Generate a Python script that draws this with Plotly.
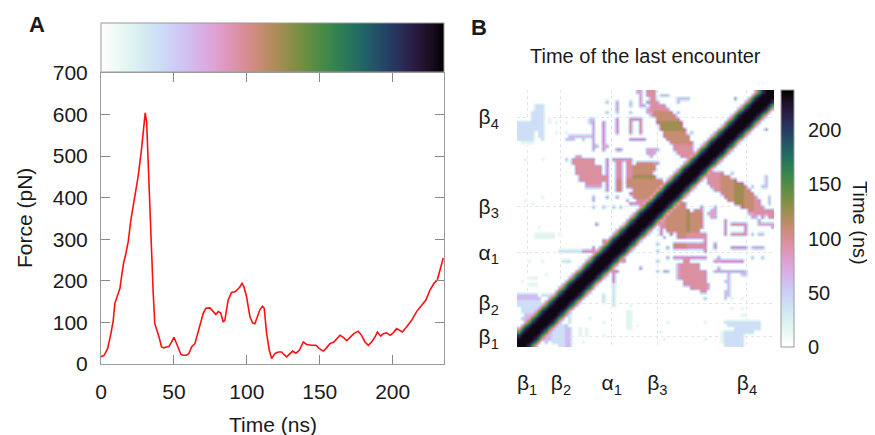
import math
import plotly.graph_objects as go

# ---------------- Panel A data: force trace ----------------
time_ns = [0, 0.4, 2.2, 4.5, 6.8, 8.4, 9.5, 11.4, 13, 14.1,
           15.5, 17, 18.7, 20.5, 22.1, 23.7, 25.5, 27.8, 29.4, 30.3,
           31.3, 32.4, 34.2, 35.8, 36.9, 38.1, 39.8, 41.5, 43.1, 44.9,
           46.6, 48.4, 50, 51.4, 53, 54.8, 56.4, 58.7, 60.3, 62.1,
           64.4, 67.8, 70.1, 71.9, 74.7, 77, 78.8, 80.4, 82, 83.8,
           84.9, 87.2, 89.5, 91.8, 93.4, 95.3, 96.7, 98, 99.8, 102.1,
           103.9, 105.5, 107.1, 109, 110.8, 111.9, 113.6, 115.4, 117, 119.2,
           121.5, 123.8, 125.4, 127.3, 129.1, 131.4, 133.7, 136, 138.7, 141,
           144.4, 147.4, 149.7, 152.4, 154.2, 157, 159.7, 161.5, 163.9, 166.2,
           168.5, 170.8, 173.4, 176.4, 178.7, 181, 183.3, 185.6, 187.9, 189.5,
           191.8, 193.6, 195.9, 198.2, 200.4, 202.7, 204.5, 206.6, 209.5, 213,
           216.4, 219.8, 222.8, 225.6, 228.3, 230.6, 232.4, 234.7]
force_pn = [18, 18, 21, 37, 73, 105, 146, 166, 182, 210,
            243, 265, 295, 347, 380, 404, 452, 517, 574, 604,
            582, 477, 315, 170, 97, 85, 65, 41, 39, 41,
            42, 53, 64, 53, 37, 23, 21, 21, 25, 41,
            49, 89, 122, 134, 135, 126, 119, 126, 123, 101,
            105, 154, 172, 174, 178, 186, 194, 186, 162, 114,
            99, 97, 114, 131, 139, 134, 73, 33, 13, 25,
            29, 29, 23, 17, 23, 31, 26, 33, 53, 47,
            45, 45, 37, 31, 37, 49, 53, 59, 69, 64,
            56, 64, 73, 79, 69, 53, 45, 53, 65, 77,
            67, 73, 75, 69, 75, 85, 81, 77, 89, 105,
            126, 142, 154, 178, 194, 202, 227, 255]
x_ticks_a = [0, 50, 100, 150, 200]
y_ticks_a = [0, 100, 200, 300, 400, 500, 600, 700]

# ---------------- Panel B data: time of last contact ----------------
residues = list(range(1, 77))
# time (ns) at |i-j| = 0..5 along the diagonal
band_profile = [232, 232, 230, 205, 150, 85]
# colour levels
level_time = {'1': 20, '2': 40, '3': 62, '4': 80, '5': 96, '6': 110,
              '7': 125, '8': 155, '9': 180, 'A': 205, 'B': 232}
# (residue j, residue i from, residue i to, level) for i < j
contacts = [
    (76, 36, 37, '4'), (76, 39, 41, '5'),
    (75, 37, 37, '4'), (75, 39, 41, '5'), (75, 43, 45, '3'),
    (74, 37, 37, '4'), (74, 40, 41, '5'), (74, 48, 51, '3'), (74, 65, 65, '5'),
    (73, 27, 27, '3'), (73, 30, 30, '4'), (73, 34, 34, '3'), (73, 37, 37, '4'), (73, 39, 42, '5'), (73, 48, 48, '3'),
    (72, 6, 8, '2'), (72, 30, 30, '4'), (72, 34, 34, '3'), (72, 37, 38, '4'), (72, 40, 44, '5'),
    (71, 6, 8, '2'), (71, 30, 30, '4'), (71, 39, 39, '4'), (71, 40, 45, '5'),
    (70, 5, 8, '2'), (70, 27, 27, '3'), (70, 30, 30, '3'), (70, 34, 34, '3'), (70, 39, 40, '4'), (70, 41, 46, '6'), (70, 48, 48, '3'),
    (69, 5, 8, '2'), (69, 40, 40, '4'), (69, 41, 47, '6'),
    (68, 5, 8, '2'), (68, 10, 10, '1'), (68, 22, 23, '3'), (68, 30, 30, '5'), (68, 34, 37, '5'), (68, 42, 48, '6'),
    (67, 1, 8, '2'), (67, 10, 10, '1'), (67, 12, 12, '1'), (67, 15, 15, '1'), (67, 22, 22, '3'), (67, 23, 23, '4'),
    (67, 26, 26, '5'), (67, 30, 30, '5'), (67, 34, 34, '5'), (67, 37, 37, '5'), (67, 42, 49, '7'),
    (66, 1, 8, '2'), (66, 23, 23, '4'), (66, 26, 26, '5'), (66, 30, 30, '5'), (66, 34, 34, '5'), (66, 37, 37, '5'), (66, 43, 49, '7'),
    (65, 1, 8, '2'), (65, 23, 23, '4'), (65, 26, 26, '5'), (65, 30, 30, '5'), (65, 34, 34, '5'), (65, 37, 37, '5'), (65, 43, 50, '7'),
    (64, 1, 5, '2'), (64, 7, 8, '2'), (64, 12, 12, '1'), (64, 15, 15, '1'), (64, 23, 23, '4'), (64, 26, 26, '5'),
    (64, 30, 30, '5'), (64, 34, 34, '5'), (64, 37, 37, '5'), (64, 44, 50, '6'), (64, 52, 52, '3'),
    (63, 1, 5, '2'), (63, 7, 8, '2'), (63, 16, 22, '3'), (63, 23, 23, '4'), (63, 26, 26, '5'), (63, 44, 51, '6'),
    (62, 1, 5, '2'), (62, 8, 8, '2'), (62, 15, 17, '3'), (62, 20, 20, '3'), (62, 23, 23, '4'), (62, 26, 26, '5'),
    (62, 34, 38, '5'), (62, 45, 51, '6'),
    (61, 2, 5, '1'), (61, 23, 23, '4'), (61, 26, 26, '5'), (61, 46, 52, '6'),
    (60, 23, 24, '4'), (60, 26, 27, '4'), (60, 47, 52, '5'),
    (59, 23, 23, '4'), (59, 26, 26, '5'), (59, 30, 31, '5'), (59, 39, 42, '4'), (59, 47, 52, '5'),
    (58, 39, 41, '4'), (58, 48, 52, '5'),
    (57, 18, 19, '4'), (57, 40, 40, '4'), (57, 49, 51, '5'),
    (56, 3, 3, '1'), (56, 8, 8, '1'), (56, 15, 15, '3'), (56, 17, 23, '5'), (56, 27, 27, '5'), (56, 29, 34, '5'),
    (55, 17, 23, '5'), (55, 27, 27, '5'), (55, 30, 31, '5'), (55, 33, 34, '5'), (55, 36, 40, '6'), (55, 41, 42, '5'),
    (54, 18, 25, '5'), (54, 27, 27, '5'), (54, 30, 31, '5'), (54, 33, 34, '5'), (54, 35, 41, '6'),
    (53, 18, 25, '5'), (53, 27, 27, '5'), (53, 30, 31, '5'), (53, 33, 34, '5'), (53, 35, 41, '6'),
    (52, 18, 25, '5'), (52, 27, 27, '5'), (52, 30, 31, '5'), (52, 33, 34, '5'), (52, 35, 40, '6'),
    (51, 19, 26, '5'), (51, 27, 27, '5'), (51, 30, 31, '5'), (51, 33, 34, '5'), (51, 35, 41, '7'),
    (50, 19, 26, '5'), (50, 27, 27, '5'), (50, 30, 31, '6'), (50, 33, 43, '6'),
    (49, 21, 25, '5'), (49, 27, 27, '5'), (49, 30, 31, '6'), (49, 33, 43, '6'),
    (48, 21, 25, '4'), (48, 27, 27, '5'), (48, 30, 31, '6'), (48, 33, 42, '6'),
    (47, 27, 27, '5'), (47, 30, 31, '6'), (47, 35, 41, '6'),
    (46, 34, 40, '6'),
    (45, 8, 8, '1'), (45, 23, 23, '4'), (45, 27, 27, '4'), (45, 30, 30, '4'), (45, 35, 39, '6'),
    (44, 3, 3, '1'), (44, 23, 23, '4'), (44, 33, 33, '4'), (44, 36, 38, '5'),
    (43, 5, 5, '1'), (43, 34, 37, '5'),
    (42, 23, 23, '3'), (42, 26, 26, '3'), (42, 29, 29, '3'), (42, 31, 31, '3'),
    (37, 24, 24, '5'),
    (36, 7, 7, '1'),
    (34, 6, 11, '1'), (34, 13, 13, '1'),
    (33, 6, 11, '1'),
    (32, 26, 26, '5'),
    (30, 23, 23, '5'),
    (29, 13, 19, '2'), (29, 20, 23, '5'),
    (26, 4, 4, '1'), (26, 8, 8, '1'), (26, 14, 16, '2'),
    (22, 9, 9, '1'),
    (21, 4, 6, '1'),
    (20, 2, 2, '1'),
    (19, 4, 6, '1'),
    (16, 1, 6, '3'), (16, 8, 10, '2'),
    (15, 1, 7, '3'),
    (14, 1, 7, '2'),
    (13, 1, 7, '2'),
    (12, 2, 6, '2'),
    (11, 2, 5, '2'),
    (10, 3, 4, '3'),
    (9, 2, 3, '3'),
]
ss_bounds = [6.5, 10.5, 16.5, 21.5, 35.5, 39.5, 44.5, 64.5, 72.5]
ss_label_pos = [3.5, 13.5, 28.5, 42, 68.5]
ss_labels = ['β<sub>1</sub>', 'β<sub>2</sub>', 'α<sub>1</sub>', 'β<sub>3</sub>', 'β<sub>4</sub>']
cbar_ticks = [0, 50, 100, 150, 200]

# ---------------- build the symmetric matrix ----------------
n = len(residues)
z = [[0.0] * n for _ in range(n)]
for j in residues:
    for d, t in enumerate(band_profile):
        i = j - d
        if i >= 1:
            z[j - 1][i - 1] = t
            z[i - 1][j - 1] = t
for (j, i0, i1, code) in contacts:
    for i in range(i0, i1 + 1):
        if abs(j - i) >= len(band_profile):
            z[j - 1][i - 1] = level_time[code]
            z[i - 1][j - 1] = level_time[code]


# ---------------- colour scale (cubehelix, reversed) ----------------
def cubehelix(lam, gamma=0.8):
    phi = 2 * math.pi * (0.5 / 3 - 1.5 * lam)
    l = lam ** gamma
    a = l * (1 - l) / 2
    c, s = math.cos(phi), math.sin(phi)
    r = l + a * (-0.14861 * c + 1.78277 * s)
    g = l + a * (-0.29227 * c - 0.90649 * s)
    b = l + a * (1.97294 * c)
    cl = lambda v: int(round(255 * min(1, max(0, v))))
    return f'rgb({cl(r)},{cl(g)},{cl(b)})'


steps = 24
strip_scale = [[k / steps, cubehelix(1 - k / steps)] for k in range(steps + 1)]
heat_scale = [[0, 'rgba(255,255,255,0)'], [0.03, cubehelix(0.97)]] + \
             [[k / steps, cubehelix(1 - k / steps)] for k in range(1, steps + 1)]

# the page body adds an 8 px margin, so the figure is 8 px smaller
OFF = 8
W, H = 875 - OFF, 435 - OFF
FONT = 'Liberation Sans, Arial, sans-serif'
TXT = '#1a1a1a'
FR = '#9a9a9a'
TICK_SIZE = 21


def px(xp):
    return (xp - OFF) / W


def py(yp):
    return 1 - (yp - OFF) / H


fig = go.Figure()
fig.add_trace(go.Scatter(x=time_ns, y=force_pn, mode='lines',
                         line=dict(color='#ff1010', width=1.6),
                         xaxis='x', yaxis='y', showlegend=False, hoverinfo='skip'))
# colour strip above panel A (horizontal colour bar)
fig.add_trace(go.Scatter(x=[None], y=[None], mode='markers', xaxis='x', yaxis='y',
                         showlegend=False, hoverinfo='skip',
                         marker=dict(color=[0], cmin=0, cmax=235, colorscale=strip_scale,
                                     showscale=True,
                                     colorbar=dict(orientation='h', x=px(101), xanchor='left',
                                                   y=py(73), yanchor='bottom',
                                                   len=343 / W, lenmode='fraction',
                                                   thickness=49, thicknessmode='pixels',
                                                   outlinecolor=FR, outlinewidth=1,
                                                   showticklabels=False, ticks='',
                                                   xpad=0, ypad=0))))
fig.add_trace(go.Heatmap(z=z, x=residues, y=residues, colorscale=heat_scale,
                         zmin=0, zmax=237, zsmooth='best', xaxis='x3', yaxis='y3',
                         hoverinfo='skip',
                         colorbar=dict(x=px(781), xanchor='left', y=py(347), yanchor='bottom',
                                       len=257 / H, lenmode='fraction', thickness=13,
                                       thicknessmode='pixels', outlinecolor=FR, outlinewidth=1,
                                       tickvals=cbar_ticks, ticks='outside', ticklen=10,
                                       tickcolor='rgba(0,0,0,0)',
                                       tickfont=dict(size=20, color=TXT, family=FONT),
                                       xpad=0, ypad=0)))

axis_a = dict(ticks='inside', ticklen=9, tickcolor='#888', showline=True, linecolor=FR,
              linewidth=1, mirror='ticks', showgrid=False, zeroline=False, automargin=False,
              tickfont=dict(size=TICK_SIZE, color=TXT, family=FONT))
fig.update_layout(
    width=W, height=H, margin=dict(l=0, r=0, t=0, b=0, autoexpand=False),
    paper_bgcolor='white', plot_bgcolor='rgba(0,0,0,0)', showlegend=False,
    font=dict(family=FONT, color=TXT),
    xaxis=dict(domain=[px(101), px(444)], anchor='y', range=[0, 235.2],
               tickvals=x_ticks_a, ticklabelstandoff=9, **axis_a),
    yaxis=dict(domain=[py(364), py(73)], anchor='x', range=[0, 700],
               tickvals=y_ticks_a, ticklabelstandoff=8, **axis_a),
    xaxis3=dict(domain=[px(517), px(774)], anchor='y3', range=[0.5, 76.5],
                tickvals=ss_label_pos, ticktext=ss_labels, ticks='outside', ticklen=17,
                tickcolor='rgba(0,0,0,0)', showgrid=True, gridcolor='#e4e4e4', griddash='dot',
                showline=False, zeroline=False, automargin=False,
                tickfont=dict(size=TICK_SIZE, color=TXT, family=FONT)),
    yaxis3=dict(domain=[py(347), py(90)], anchor='x3', range=[0.5, 76.5],
                tickvals=ss_label_pos, ticktext=ss_labels, ticks='outside', ticklen=13,
                tickcolor='rgba(0,0,0,0)', showgrid=True, gridcolor='#e4e4e4', griddash='dot',
                showline=False, zeroline=False, automargin=False,
                tickfont=dict(size=TICK_SIZE, color=TXT, family=FONT)),
    xaxis4=dict(overlaying='x3', anchor='y3', range=[0.5, 76.5], tickvals=ss_bounds,
                ticks='outside', ticklen=13, tickcolor='#888', showticklabels=False,
                showline=True, linecolor=FR, mirror='ticks', showgrid=False, zeroline=False,
                automargin=False),
    yaxis4=dict(overlaying='y3', anchor='x3', range=[0.5, 76.5], tickvals=ss_bounds,
                ticks='outside', ticklen=13, tickcolor='#888', showticklabels=False,
                showline=True, linecolor=FR, mirror='ticks', showgrid=False, zeroline=False,
                automargin=False),
)

ann = [
    dict(text='<b>A</b>', x=px(37), y=py(24), size=22),
    dict(text='<b>B</b>', x=px(479), y=py(27), size=22),
    dict(text='Time of the last encounter', x=px(645.5), y=py(56), size=20),
    dict(text='Force (pN)', x=px(24), y=py(218), size=21, angle=-90),
    dict(text='Time (ns)', x=px(273), y=py(424), size=21),
    dict(text='Time (ns)', x=px(860), y=py(223), size=20, angle=90),
]
for a in ann:
    fig.add_annotation(text=a['text'], x=a['x'], y=a['y'], xref='paper', yref='paper',
                       xanchor='center', yanchor='middle', showarrow=False,
                       textangle=a.get('angle', 0),
                       font=dict(size=a['size'], color=TXT, family=FONT))

fig.write_html('out.html')
